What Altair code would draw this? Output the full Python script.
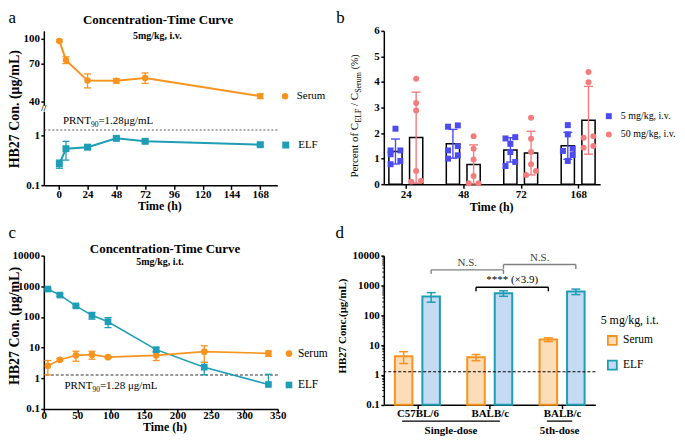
import altair as alt
import pandas as pd

FONT = "Liberation Serif"
ORANGE = "#F7931E"
TEAL = "#1E9DB6"
BLUE = "#4B4BF0"
SALMON = "#F47C7C"
PEACH = "#FDDDB9"
LBLUE = "#C5DBF4"

# ---------------- data ----------------
# panel a (5 mg/kg i.v.)
a_time = [0.5, 6, 24, 48, 72, 168]
a_serum = [97, 73.4, 54.5, 54.3, 56.6, 43.5]
a_serum_sd = [1.5, 3.6, 5.5, 1.8, 4.3, 1.5]
a_elf = [0.27, 0.54, 0.58, 0.87, 0.76, 0.65]
a_elf_sd = [0.05, 0.22, 0.04, 0.07, 0.05, 0.05]
a_xticks = [0, 24, 48, 72, 96, 120, 144, 168]
prnt90 = 1.28

# panel b (percent ELF / serum, individual animals)
b_time = ["24", "48", "72", "168"]
b_doses = ["5 mg/kg, i.v.", "50 mg/kg, i.v."]
b_low = [[2.17, 1.32, 1.32, 1.17, 0.78, 0.91],
         [2.25, 2.30, 1.32, 1.49, 1.00, 1.13],
         [1.79, 1.84, 1.58, 1.26, 0.71, 0.87],
         [2.31, 1.95, 1.30, 1.39, 1.14, 0.91]]
b_high = [[4.13, 3.18, 2.88, 0.52, 0.10, 0.13],
          [1.88, 1.39, 0.97, 0.32, 0.04, 0.04],
          [2.60, 1.78, 1.26, 0.78, 0.36, 0.52],
          [4.39, 3.99, 1.82, 1.88, 1.43, 1.49]]

# panel c (5 mg/kg i.t.)
c_time = [6, 24, 48, 72, 96, 168, 240, 336]
c_serum = [2.55, 4.0, 5.6, 5.9, 4.9, 5.6, 7.4, 6.5]
c_serum_sd = [1.25, 0.4, 2.0, 1.7, 0.3, 1.8, 4.1, 1.3]
c_elf = [817, 518, 230, 113, 70, 8.6, 2.3, 0.63]
c_elf_sd = [50, 50, 20, 28, 25, 1.4, 1.0, 0.72]

# panel d
d_groups = ["C57BL/6", "BALB/c", "BALB/c"]
d_regimen = ["Single-dose", "Single-dose", "5th-dose"]
d_series = ["Serum", "ELF"]
d_serum = [4.2, 3.9, 15.3]
d_serum_sd = [1.8, 0.9, 2.2]
d_elf = [424, 547, 624]
d_elf_sd = [150, 115, 130]
# brackets: (group from, series from, group to, series to, level, tick end, label)
d_brackets = [(0, "ELF", 1, "ELF", 3340, 2450, "N.S."),
              (1, "ELF", 2, "ELF", 5030, 3600, "N.S."),
              (1, "Serum", 2, "Serum", 870, 640, "**** (×3.9)")]
log_decades = [0.1, 1, 10, 100, 1000]
log_minor = [2, 3, 4, 5, 6, 7, 8, 9]

# ---------------- helpers ----------------
AW, AH_TOP, A_GAP, AH = 234.5, 74.7, 6, 155.2
BW, BH = 217.3, 154
CW, CH = 235, 154
DW, DH = 212.5, 149.7

TW = {" ": 250, "P": 556, "e": 444, "r": 333, "c": 444, "n": 500, "t": 278, "o": 500,
      "f": 333, "C": 667, "E": 611, "L": 611, "F": 556, "/": 278, "S": 556, "u": 500,
      "m": 778, "(": 333, "%": 833, ")": 333, "R": 667, "N": 722, "T": 611, "9": 500, "0": 500}


def tw(s, size):
    return sum(TW.get(ch, 500) for ch in s) * size / 1000


def axis(values, tick=4, pad=0, **kw):
    return alt.Axis(values=values, title=None, grid=False, domainColor="black", domainWidth=1.5,
                    tickColor="black", tickWidth=1.5, tickSize=tick, labelFont=FONT,
                    labelFontSize=11, labelFontWeight="bold", labelColor="black",
                    labelPadding=pad, labelFlush=False, labelOverlap=False, **kw)


def txt(s, x, y, size=11, weight="normal", align="left", baseline="alphabetic", angle=0,
        color="black"):
    return alt.Chart(pd.DataFrame({"s": [s]})).mark_text(
        font=FONT, fontSize=size, fontWeight=weight, align=align, baseline=baseline,
        angle=angle, color=color).encode(text="s:N", x=alt.value(x), y=alt.value(y))


def errbars(df, X, Y, xf, color, cap, width=1.3):
    base = alt.Chart(df).transform_calculate(
        hi="datum.m + datum.sd",
        lo="datum.m - datum.sd > 0 ? datum.m - datum.sd : datum.m")
    rule = base.mark_rule(color=color, strokeWidth=width).encode(x=X(xf), y=Y("lo"), y2="hi:Q")
    top = base.mark_tick(orient="horizontal", color=color, size=cap, thickness=width,
                         opacity=1).encode(x=X(xf), y=Y("hi"))
    bot = base.transform_filter("datum.m - datum.sd > 0").mark_tick(
        orient="horizontal", color=color, size=cap, thickness=width, opacity=1
    ).encode(x=X(xf), y=Y("lo"))
    return [rule, top, bot]


def leg(x, y, size, font=11, offset=6, rowpad=2, **kw):
    return alt.Legend(orient="none", legendX=x, legendY=y, title=None, padding=0,
                      labelFont=FONT, labelFontSize=font, labelColor="black", labelOffset=offset,
                      symbolSize=size, symbolStrokeWidth=0, symbolOpacity=1, rowPadding=rowpad,
                      **kw)


def sub_pieces(pieces, x0, y0, horizontal=True, angle=0):
    out = []
    cur = x0 if horizontal else y0
    for s, size, shift, gap in pieces:
        if horizontal:
            cur += gap
            out.append(txt(s, cur, y0 + shift, size=size))
            cur += tw(s, size)
        else:
            cur -= gap
            out.append(txt(s, x0 + shift, cur, size=size, angle=angle))
            cur -= tw(s, size)
    return out


# ---------------- panel a (broken y axis: two scales in one view) ----------------
XA = alt.Scale(domain=[-12.45, 182.2], nice=False, zero=False)
AX_A = axis(a_xticks, pad=-1)
YAT = alt.Scale(type="log", domain=[38.1, 112.3], range=[AH_TOP, 0], nice=False)
YAB = alt.Scale(type="log", domain=[0.1, 3.04], range=[AH, AH_TOP + A_GAP], nice=False)
AY_AT = axis([40, 70, 100], tick=3, pad=1.5, format="~g", orient="left")
AY_AB = axis([0.1, 1], tick=3, pad=1.5, format="~g", orient="left")


def xa(f):
    return alt.X(f, type="quantitative", scale=XA, axis=AX_A)


def yat(f):
    return alt.Y(f, type="quantitative", scale=YAT, axis=AY_AT)


def yab(f):
    return alt.Y(f, type="quantitative", scale=YAB, axis=AY_AB)


dfa_s = pd.DataFrame({"t": a_time, "m": a_serum, "sd": a_serum_sd, "series": "Serum"})
dfa_e = pd.DataFrame({"t": a_time, "m": a_elf, "sd": a_elf_sd, "series": "ELF"})

leg_as = leg(236.75, 60.2, 42, font=11, offset=6.25)
leg_ae = leg(237.5, 28.5 + AH_TOP + A_GAP, 49, font=11, offset=7)

a_serum_group = alt.layer(
    alt.Chart(dfa_s).mark_line(color=ORANGE, strokeWidth=2).encode(x=xa("t"), y=yat("m")),
    *errbars(dfa_s, xa, yat, "t", ORANGE, 7),
    alt.Chart(dfa_s).mark_point(filled=True, size=42, opacity=1).encode(
        x=xa("t"), y=yat("m"),
        color=alt.Color("series:N", scale=alt.Scale(domain=["Serum"], range=[ORANGE]), legend=leg_as),
        shape=alt.Shape("series:N", scale=alt.Scale(domain=["Serum"], range=["circle"]), legend=leg_as)),
)
a_elf_group = alt.layer(
    alt.Chart(pd.DataFrame({"p": [prnt90]})).mark_rule(
        strokeDash=[2, 2], color="#555555", strokeWidth=1.2).encode(y=yab("p")),
    alt.Chart(dfa_e).mark_line(color=TEAL, strokeWidth=2).encode(x=xa("t"), y=yab("m")),
    *errbars(dfa_e, xa, yab, "t", TEAL, 7),
    alt.Chart(dfa_e).mark_point(filled=True, size=49, opacity=1).encode(
        x=xa("t"), y=yab("m"),
        color=alt.Color("series:N", scale=alt.Scale(domain=["ELF"], range=[TEAL]), legend=leg_ae),
        shape=alt.Shape("series:N", scale=alt.Scale(domain=["ELF"], range=["square"]), legend=leg_ae)),
)
AB0 = AH_TOP + A_GAP
panel_a = alt.layer(
    a_serum_group, a_elf_group,
    *sub_pieces([("PRNT", 11, 0, 0), ("90", 7.5, 3, 0), ("=1.28μg/mL", 11, 0, 0)], 19.2, AB0 + 13),
    txt("Time (h)", 116.5, AB0 + 99.5, size=12, weight="bold", align="center"),
    txt("a", -35.5, -7.7, size=17),
    txt("Concentration-Time Curve", 114.8, -6.6, size=13, weight="bold", align="center"),
    txt("5mg/kg, i.v.", 114, 8, size=10, weight="bold", align="center"),
    txt("HB27 Con. (μg/mL)", -28.5, 78.7, size=14, weight="bold", align="center",
        baseline="middle", angle=270),
    txt("//", 0, AH_TOP + 3, size=9, weight="bold", align="center", baseline="middle"),
).resolve_scale(y="independent", color="independent", shape="independent").properties(
    width=AW, height=AH)

# ---------------- panel b ----------------
rows = []
for ti, t in enumerate(b_time):
    for di, dose in enumerate(b_doses):
        for v in (b_low if di == 0 else b_high)[ti]:
            rows.append({"time": t, "ti": ti, "dose": dose, "di": di, "v": v})
dfb = pd.DataFrame(rows)

XB = alt.Scale(domain=[-0.383, 3.383], nice=False, zero=False)
AX_B = axis(list(range(len(b_time))),
            labelExpr="[" + ",".join(f"'{t}'" for t in b_time) + "][datum.value]")
YB = alt.Scale(domain=[0, 6], nice=False)
AY_B = axis([0, 1, 2, 3, 4, 5, 6], tick=3, pad=1.5)


def xb(f):
    return alt.X(f, type="quantitative", scale=XB, axis=AX_B)


def yb(f):
    return alt.Y(f, type="quantitative", scale=YB, axis=AY_B)


b_agg = alt.Chart(dfb).transform_aggregate(
    m="mean(v)", sd="stdev(v)", groupby=["ti", "di", "dose"]
).transform_calculate(c="datum.ti + (datum.di - 0.5) * 0.36")

b_bars = b_agg.transform_calculate(
    x1="datum.c - 0.115", x2="datum.c + 0.115"
).mark_rect(fill="white", stroke="black", strokeWidth=1.5).encode(
    x=xb("x1"), x2="x2:Q", y=yb("m"), y2=alt.datum(0))

b_err = []
for di, col in enumerate([BLUE, SALMON]):
    base = b_agg.transform_filter(f"datum.di == {di}").transform_calculate(
        hi="datum.m + datum.sd", lo="max(datum.m - datum.sd, 0)")
    b_err += [
        base.mark_rule(color=col, strokeWidth=1.4).encode(x=xb("c"), y=yb("lo"), y2="hi:Q"),
        base.mark_tick(orient="horizontal", color=col, size=9, thickness=1.4, opacity=1).encode(
            x=xb("c"), y=yb("hi")),
        base.mark_tick(orient="horizontal", color=col, size=9, thickness=1.4, opacity=1).encode(
            x=xb("c"), y=yb("lo")),
    ]

leg_b = leg(221, 80.7, 36, font=10, offset=7, rowpad=8.3,
            labelExpr=f"datum.label == '{b_doses[0]}' ? '\u2007' + datum.label : datum.label")
b_points = alt.Chart(dfb).transform_window(
    rk="row_number()", prev="lag(v)", nxt="lead(v)", groupby=["ti", "di"],
    sort=[alt.SortField("v", order="ascending")]
).transform_calculate(
    close="(isValid(datum.prev) && datum.v - datum.prev < 0.2) || "
          "(isValid(datum.nxt) && datum.nxt - datum.v < 0.2)"
).transform_calculate(
    px="datum.ti + (datum.di - 0.5) * 0.36 + (datum.close ? (datum.rk % 2 == 0 ? 0.085 : -0.085) : 0)"
).mark_point(filled=True, size=36, opacity=1).encode(
    x=xb("px"), y=yb("v"),
    color=alt.Color("dose:N", scale=alt.Scale(domain=b_doses, range=[BLUE, SALMON]), legend=leg_b),
    shape=alt.Shape("dose:N", scale=alt.Scale(domain=b_doses, range=["square", "circle"]),
                    legend=leg_b))

panel_b = alt.layer(
    b_bars, *b_err, b_points,
    txt("b", -47.7, -7.7, size=17),
    *sub_pieces([("Percent of C", 11, 0, 0), ("ELF", 8, 2.5, 0), ("/ C", 11, 0, 2.75),
                 ("Serum", 8, 2.5, 0), ("(%)", 10, 0, 2.75)], -25.7, 147.4,
                horizontal=False, angle=270),
    txt("Time (h)", 108.3, 181, size=12, weight="bold", align="center"),
).properties(width=BW, height=BH)

# ---------------- panel c ----------------
XC = alt.Scale(domain=[0, 350], nice=False, zero=False)
AX_C = axis([0, 50, 100, 150, 200, 250, 300, 350], pad=-3)
YC = alt.Scale(type="log", domain=[0.1, 10000], nice=False)
AY_C = axis([0.1, 1, 10, 100, 1000, 10000], tick=3, pad=1.5, format="~g")


def xc(f):
    return alt.X(f, type="quantitative", scale=XC, axis=AX_C)


def yc(f):
    return alt.Y(f, type="quantitative", scale=YC, axis=AY_C)


dfc_s = pd.DataFrame({"t": c_time, "m": c_serum, "sd": c_serum_sd, "series": "Serum"})
dfc_e = pd.DataFrame({"t": c_time, "m": c_elf, "sd": c_elf_sd, "series": "ELF"})
dfc = pd.concat([dfc_s, dfc_e], ignore_index=True)
leg_c = leg(240.5, 92.65, 45, font=11.5, offset=3.2, rowpad=18.5)

panel_c = alt.layer(
    alt.Chart(pd.DataFrame({"p": [prnt90]})).mark_rule(
        strokeDash=[3, 2], color="#333333", strokeWidth=1.1).encode(y=yc("p")),
    alt.Chart(dfc_e).mark_line(color=TEAL, strokeWidth=1.6).encode(x=xc("t"), y=yc("m")),
    alt.Chart(dfc_s).mark_line(color=ORANGE, strokeWidth=1.6).encode(x=xc("t"), y=yc("m")),
    *errbars(dfc_e, xc, yc, "t", TEAL, 7),
    *errbars(dfc_s, xc, yc, "t", ORANGE, 7),
    alt.Chart(dfc).mark_point(filled=True, size=45, opacity=1).encode(
        x=xc("t"), y=yc("m"),
        color=alt.Color("series:N", scale=alt.Scale(domain=["Serum", "ELF"], range=[ORANGE, TEAL]),
                        legend=leg_c),
        shape=alt.Shape("series:N", scale=alt.Scale(domain=["Serum", "ELF"],
                                                     range=["circle", "square"]), legend=leg_c)),
    *sub_pieces([("PRNT", 11, 0, 0), ("90", 7.5, 3, 0), ("=1.28 μg/mL", 11, 0, 0)], 20.7, 134),
    txt("c", -35.5, -17.6, size=17),
    txt("Concentration-Time Curve", 121.7, -2.8, size=13, weight="bold", align="center"),
    txt("5mg/kg, i.t.", 116.7, 9, size=10, weight="bold", align="center"),
    txt("HB27 Con. (μg/mL)", -28.5, 70.7, size=14, weight="bold", align="center",
        baseline="middle", angle=270),
    txt("Time (h)", 121.7, 176, size=12, weight="bold", align="center"),
).properties(width=CW, height=CH)

# ---------------- panel d ----------------
drows = []
for gi, g in enumerate(d_groups):
    drows.append({"gi": gi, "group": g, "series": "Serum", "m": d_serum[gi], "sd": d_serum_sd[gi]})
    drows.append({"gi": gi, "group": g, "series": "ELF", "m": d_elf[gi], "sd": d_elf_sd[gi]})
dfd = pd.DataFrame(drows)

XD = alt.Scale(domain=[-0.464, 2.46], nice=False, zero=False)
AX_D = axis(list(range(len(d_groups))), pad=-1,
            labelExpr="[" + ",".join(f"'{g}'" for g in d_groups) + "][datum.value]")
YD = alt.Scale(type="log", domain=[0.1, 10000], nice=False)
AY_D = axis([0.1, 1, 10, 100, 1000, 10000], tick=3, pad=1.5, format="~g")


def xd(f):
    return alt.X(f, type="quantitative", scale=XD, axis=AX_D)


def yd(f):
    return alt.Y(f, type="quantitative", scale=YD, axis=AY_D)


POS = "datum.gi + (datum.series == 'Serum' ? -0.19 : 0.19)"
d_base = alt.Chart(dfd).transform_calculate(c=POS)

leg_d = alt.Legend(orient="none", legendX=217.8, legendY=59.7, title="5 mg/kg, i.t.",
                   titleFont=FONT, titleFontSize=12, titleFontWeight="normal", titleColor="black",
                   titlePadding=7.75, padding=0, labelFont=FONT, labelFontSize=11.5,
                   labelColor="black", labelOffset=5, symbolType="square", symbolSize=81,
                   symbolStrokeWidth=1.8, symbolOffset=6, rowPadding=7.7, symbolOpacity=1)

d_bars = d_base.transform_calculate(x1="datum.c - 0.121", x2="datum.c + 0.121").mark_rect(
    strokeWidth=2).encode(
    x=xd("x1"), x2="x2:Q", y=yd("m"), y2=alt.datum(0.1),
    fill=alt.Fill("series:N", scale=alt.Scale(domain=d_series, range=[PEACH, LBLUE]), legend=leg_d),
    stroke=alt.Stroke("series:N", scale=alt.Scale(domain=d_series, range=[ORANGE, TEAL]),
                      legend=leg_d))

d_err = []
for s, col in zip(d_series, [ORANGE, TEAL]):
    base = d_base.transform_filter(f"datum.series == '{s}'").transform_calculate(
        hi="datum.m + datum.sd", lo="datum.m - datum.sd")
    d_err += [
        base.mark_rule(color=col, strokeWidth=1.5).encode(x=xd("c"), y=yd("lo"), y2="hi:Q"),
        base.mark_tick(orient="horizontal", color=col, size=9, thickness=1.5, opacity=1).encode(
            x=xd("c"), y=yd("hi")),
        base.mark_tick(orient="horizontal", color=col, size=9, thickness=1.5, opacity=1).encode(
            x=xd("c"), y=yd("lo")),
    ]

dfbr = pd.DataFrame(d_brackets, columns=["g0", "s0", "g1", "s1", "level", "low", "label"])
br = alt.Chart(dfbr).transform_calculate(
    x1="datum.g0 + (datum.s0 == 'Serum' ? -0.19 : 0.19)",
    x2="datum.g1 + (datum.s1 == 'Serum' ? -0.19 : 0.19)",
    col="datum.label == 'N.S.' ? '#808080' : '#000000'",
    tcol="datum.label == 'N.S.' ? '#404040' : '#000000'",
).transform_calculate(xm="(datum.x1 + datum.x2) / 2")
br_layers = [
    br.mark_rule(strokeWidth=1.4).encode(x=xd("x1"), x2="x2:Q", y=yd("level"),
                                          color=alt.Color("col:N", scale=None)),
    br.mark_rule(strokeWidth=1.4).encode(x=xd("x1"), y=yd("low"), y2="level:Q",
                                          color=alt.Color("col:N", scale=None)),
    br.mark_rule(strokeWidth=1.4).encode(x=xd("x2"), y=yd("low"), y2="level:Q",
                                          color=alt.Color("col:N", scale=None)),
    br.mark_text(font=FONT, fontSize=11, dy=-4, align="center", baseline="alphabetic").encode(
        x=xd("xm"), y=yd("level"), text="label:N", color=alt.Color("tcol:N", scale=None)),
]

regs = []
for gi, r in enumerate(d_regimen):
    if regs and regs[-1]["reg"] == r:
        regs[-1]["g1"] = gi
    else:
        regs.append({"reg": r, "g0": gi, "g1": gi})
reg = alt.Chart(pd.DataFrame(regs)).transform_calculate(
    x1="datum.g0 - 0.21", x2="datum.g1 + 0.14").transform_calculate(
    xm="(datum.x1 + datum.x2) / 2")
reg_layers = [
    reg.mark_rule(color="black", strokeWidth=1.3).encode(x=xd("x1"), x2="x2:Q",
                                                          y=alt.value(DH + 16.5)),
    reg.mark_text(font=FONT, fontSize=11, fontWeight="bold", align="center").encode(
        x=xd("xm"), y=alt.value(DH + 26.3), text="reg:N"),
]

# minor log ticks on the y axis of panel d (same scale, unlabeled axis)
minor_vals = [round(d * m, 6) for d in log_decades for m in log_minor]
d_minor = alt.Chart(pd.DataFrame({"v": minor_vals})).mark_point(opacity=0).encode(
    y=alt.Y("v:Q", scale=YD, axis=alt.Axis(values=minor_vals, labels=False, domain=False,
                                           grid=False, title=None, tickSize=2, tickWidth=1,
                                           tickColor="black", orient="left")))

d_main = alt.layer(
    d_bars, *d_err,
    alt.Chart(pd.DataFrame({"p": [prnt90]})).mark_rule(
        strokeDash=[3, 2], color="black", strokeWidth=1.1).encode(y=yd("p")),
    *br_layers, *reg_layers,
)
panel_d = alt.layer(
    d_main, d_minor,
    txt("d", -48.5, -18, size=17),
    txt("HB27 Conc.(μg/mL)", -40.5, 70.7, size=11, weight="bold", align="center",
        baseline="middle", angle=270),
).resolve_scale(y="independent").properties(width=DW, height=DH)

chart = alt.concat(
    panel_a, panel_b, panel_c, panel_d, columns=2,
    spacing={"row": 69.8, "column": 106.5}, bounds="flush"
).resolve_scale(
    x="independent", y="independent", color="independent", shape="independent",
    fill="independent", stroke="independent"
).properties(padding=0).configure_view(stroke=None)

chart.save("out.html", embed_options={"renderer": "svg", "actions": False})
